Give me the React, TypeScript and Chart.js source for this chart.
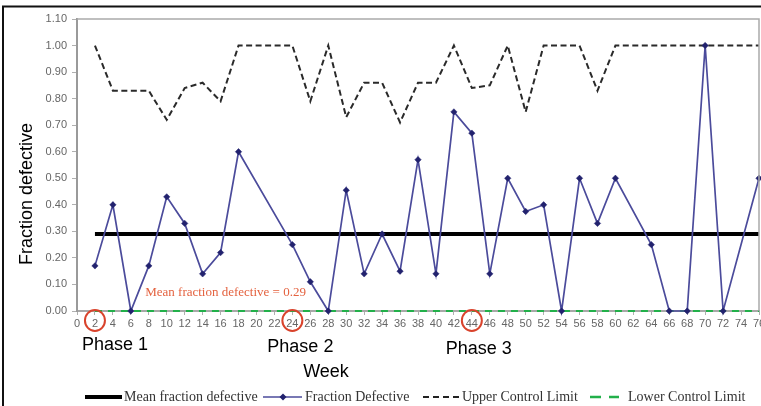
import React, { useEffect, useRef } from 'react';
import { Chart, registerables } from 'chart.js';

Chart.register(...registerables);

// ---- Data ----
const weeks = [2, 4, 6, 8, 10, 12, 14, 16, 18, 24, 26, 28, 30, 32, 34, 36, 38, 40, 42, 44, 46, 48, 50, 52, 54, 56, 58, 60, 64, 66, 68, 70, 72, 76];
const fractionDefective = [0.17, 0.4, 0, 0.17, 0.43, 0.33, 0.14, 0.22, 0.6, 0.25, 0.11, 0, 0.455, 0.14, 0.29, 0.15, 0.57, 0.14, 0.75, 0.67, 0.14, 0.5, 0.375, 0.4, 0, 0.5, 0.33, 0.5, 0.25, 0, 0, 1.0, 0, 0.5];
const upperControlLimit = [1.0, 0.83, 0.83, 0.83, 0.72, 0.84, 0.86, 0.79, 1.0, 1.0, 0.79, 1.0, 0.73, 0.86, 0.86, 0.71, 0.86, 0.86, 1.0, 0.84, 0.85, 1.0, 0.75, 1.0, 1.0, 1.0, 0.83, 1.0, 1.0, 1.0, 1.0, 1.0, 1.0, 1.0];
const meanFractionDefective = 0.29;
const limitWeeks = [2, 76];
const lowerControlLimit = 0;
const phaseWeeks = [2, 24, 44];
const phaseLabels = ['Phase 1', 'Phase 2', 'Phase 3'];
const legendLabels = ['Mean fraction defective', 'Fraction Defective', 'Upper Control Limit', 'Lower Control Limit'];
const xTitle = 'Week';
const yTitle = 'Fraction defective';
const weekMin = 0;
const weekMax = 76;
const weekStep = 2;
const fracMin = 0;
const fracMax = 1.1;
const fracStep = 0.1;

const SANS = "'Liberation Sans', Arial, sans-serif";
const SERIF = "'Liberation Serif', 'Times New Roman', serif";

const overlayPlugin = {
  id: 'overlay',
  afterDraw(chart: any) {
    const { ctx, chartArea: a, scales } = chart;
    const x = scales.x;
    const y = scales.y;
    ctx.save();

    // plot area border (top, right)
    ctx.strokeStyle = '#aaaaaa';
    ctx.lineWidth = 1.5;
    ctx.beginPath();
    ctx.moveTo(a.left, a.top);
    ctx.lineTo(a.right, a.top);
    ctx.lineTo(a.right, a.bottom);
    ctx.stroke();

    // outer black frame
    ctx.strokeStyle = '#111';
    ctx.lineWidth = 2;
    ctx.beginPath();
    ctx.moveTo(3, 406);
    ctx.lineTo(3, 6.5);
    ctx.lineTo(790, 6.5);
    ctx.stroke();

    // mean annotation
    ctx.fillStyle = '#e4623f';
    ctx.font = `13px ${SERIF}`;
    ctx.textBaseline = 'middle';
    ctx.textAlign = 'left';
    ctx.fillText(`Mean fraction defective = ${meanFractionDefective.toFixed(2)}`, x.getPixelForValue(7.6), y.getPixelForValue(0.068));

    // phase circles + labels
    const labelOffsets = [20, 8, 7];
    const labelY = [345, 347, 349];
    phaseWeeks.forEach((w, i) => {
      const cx = x.getPixelForValue(w);
      ctx.strokeStyle = '#d9432c';
      ctx.lineWidth = 2;
      ctx.beginPath();
      ctx.ellipse(cx, 320.5, 10, 10.5, 0, 0, Math.PI * 2);
      ctx.stroke();
      ctx.fillStyle = '#000';
      ctx.font = `18px ${SANS}`;
      ctx.textAlign = 'center';
      ctx.fillText(phaseLabels[i], cx + labelOffsets[i], labelY[i]);
    });

    // axis titles
    ctx.fillStyle = '#000';
    ctx.font = `18px ${SANS}`;
    ctx.textAlign = 'center';
    ctx.fillText(xTitle, 326, 372);
    ctx.save();
    ctx.translate(27, 194);
    ctx.rotate(-Math.PI / 2);
    ctx.fillText(yTitle, 0, 0);
    ctx.restore();

    // legend
    const ly = 397;
    ctx.font = `14px ${SERIF}`;
    ctx.fillStyle = '#333';
    ctx.textAlign = 'left';
    // mean
    ctx.strokeStyle = '#000';
    ctx.lineWidth = 4;
    ctx.setLineDash([]);
    ctx.beginPath(); ctx.moveTo(85, ly); ctx.lineTo(122, ly); ctx.stroke();
    ctx.fillText(legendLabels[0], 124, ly);
    // fraction defective
    ctx.strokeStyle = '#4b4b9b';
    ctx.lineWidth = 1.5;
    ctx.beginPath(); ctx.moveTo(263, ly); ctx.lineTo(302, ly); ctx.stroke();
    ctx.fillStyle = '#22226e';
    ctx.beginPath();
    ctx.moveTo(283, ly - 3.5); ctx.lineTo(286.5, ly); ctx.lineTo(283, ly + 3.5); ctx.lineTo(279.5, ly); ctx.closePath(); ctx.fill();
    ctx.fillStyle = '#333';
    ctx.fillText(legendLabels[1], 305, ly);
    // UCL
    ctx.strokeStyle = '#222';
    ctx.lineWidth = 2;
    ctx.setLineDash([6, 4]);
    ctx.beginPath(); ctx.moveTo(423, ly); ctx.lineTo(459, ly); ctx.stroke();
    ctx.fillText(legendLabels[2], 462, ly);
    // LCL
    ctx.strokeStyle = '#22b04a';
    ctx.lineWidth = 2.5;
    ctx.setLineDash([11, 8]);
    ctx.beginPath(); ctx.moveTo(590, ly); ctx.lineTo(619, ly); ctx.stroke();
    ctx.setLineDash([]);
    ctx.fillText(legendLabels[3], 628, ly);

    ctx.restore();
  },
};

export default function App() {
  const canvasRef = useRef<HTMLCanvasElement | null>(null);

  useEffect(() => {
    document.body.style.margin = '0';
    const canvas = canvasRef.current;
    if (!canvas) return;

    const fracPoints = weeks.map((w, i) => ({ x: w, y: fractionDefective[i] }));
    const uclPoints = weeks.map((w, i) => ({ x: w, y: upperControlLimit[i] }));
    const meanPoints = limitWeeks.map((w) => ({ x: w, y: meanFractionDefective }));
    const lclPoints = limitWeeks.map((w) => ({ x: w, y: lowerControlLimit }));

    const chart = new Chart(canvas, {
      type: 'line',
      data: {
        datasets: [
          {
            label: legendLabels[0],
            data: meanPoints,
            borderColor: '#000',
            borderWidth: 4,
            pointRadius: 0,
            clip: false as any,
            order: 3,
          },
          {
            label: legendLabels[1],
            data: fracPoints,
            borderColor: '#4b4b9b',
            borderWidth: 1.7,
            pointStyle: 'rectRot',
            pointRadius: 3.2,
            pointBackgroundColor: '#22226e',
            pointBorderColor: '#22226e',
            pointBorderWidth: 0.5,
            clip: false as any,
            order: 0,
          },
          {
            label: legendLabels[2],
            data: uclPoints,
            borderColor: '#2a2a2a',
            borderWidth: 2,
            borderDash: [6, 3.5],
            pointRadius: 0,
            clip: false as any,
            order: 2,
          },
          {
            label: legendLabels[3],
            data: lclPoints,
            borderColor: '#22b04a',
            borderWidth: 2.2,
            borderDash: [7, 6],
            pointRadius: 0,
            clip: false as any,
            order: 1,
          },
        ],
      },
      options: {
        responsive: false,
        animation: false,
        events: [],
        layout: { padding: { left: 0, right: 31, top: 19, bottom: 0 } },
        plugins: {
          legend: { display: false },
          tooltip: { enabled: false },
          title: { display: false },
        },
        scales: {
          x: {
            type: 'linear',
            min: weekMin,
            max: weekMax,
            afterFit: (s: any) => { s.height = 95; },
            ticks: {
              stepSize: weekStep,
              autoSkip: false,
              maxRotation: 0,
              minRotation: 0,
              padding: 2,
              color: '#666',
              font: { family: SANS, size: 11 },
              callback: (v: any) => String(v),
            },
            grid: { display: true, drawOnChartArea: false, tickLength: 4, color: '#b0b0b0' },
            border: { display: true, color: '#a8a8a8', width: 2 },
          },
          y: {
            type: 'linear',
            min: fracMin,
            max: fracMax,
            afterFit: (s: any) => { s.width = 77; },
            ticks: {
              stepSize: fracStep,
              padding: 5,
              color: '#666',
              font: { family: SANS, size: 11 },
              callback: (v: any) => Number(v).toFixed(2),
            },
            grid: { display: true, drawOnChartArea: false, tickLength: 5, color: '#b0b0b0' },
            border: { display: true, color: '#9a9a9a', width: 2 },
          },
        },
      },
      plugins: [overlayPlugin],
    });

    return () => chart.destroy();
  }, []);

  return (
    <div style={{ position: 'relative', width: 761, height: 406, overflow: 'hidden', background: '#fff' }}>
      <canvas ref={canvasRef} width={790} height={406} style={{ display: 'block', width: 790, height: 406 }} />
    </div>
  );
}
